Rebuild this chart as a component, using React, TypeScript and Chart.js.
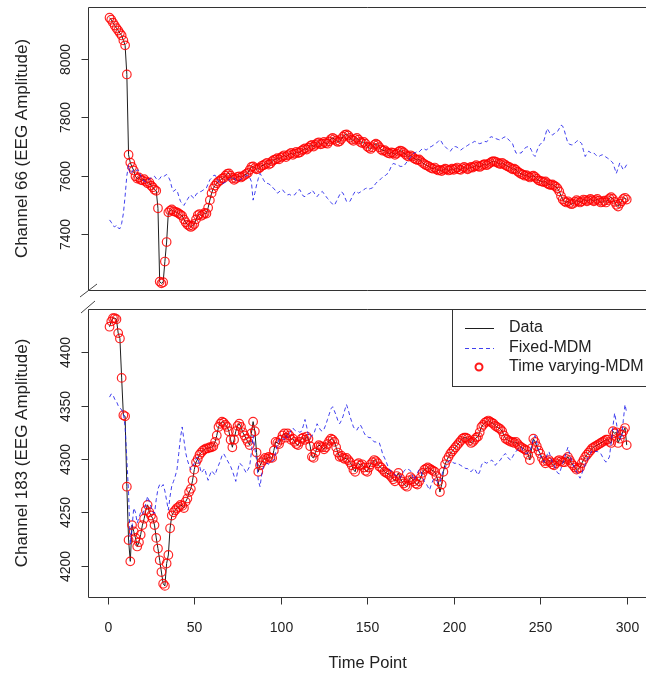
import React, { useEffect, useRef } from "react";
import { Chart, registerables } from "chart.js";

Chart.register(...registerables);

const timePoints = Array.from({ length: 300 }, (_, i) => i + 1);
const timeTicks = [0, 50, 100, 150, 200, 250, 300];
const ch66Ticks = [7400, 7600, 7800, 8000];
const ch183Ticks = [4200, 4250, 4300, 4350, 4400];
const seriesLabels = ["Data", "Fixed-MDM", "Time varying-MDM"];
const panelTitles = ["Channel 66 (EEG Amplitude)", "Channel 183 (EEG Amplitude)"];
const xTitle = "Time Point";

const ch66Data = [
  8143, 8136, 8126, 8116, 8107, 8099, 8090, 8082, 8065, 8048,
  7948, 7672, 7645, 7630, 7618, 7598, 7590, 7594, 7586, 7584,
  7588, 7580, 7574, 7577, 7566, 7560, 7552, 7548, 7488, 7236,
  7230, 7234, 7305, 7372, 7474, 7480, 7484, 7478, 7476, 7474,
  7470, 7466, 7462, 7450, 7440, 7432, 7428, 7424, 7428, 7434,
  7450, 7464, 7468, 7462, 7466, 7472, 7470, 7490, 7516, 7540,
  7556, 7566, 7574, 7580, 7584, 7590, 7592, 7600, 7606, 7608,
  7600, 7592, 7586, 7590, 7596, 7598, 7594, 7598, 7602, 7606,
  7610, 7620, 7630, 7632, 7626, 7622, 7624, 7628, 7634, 7636,
  7640, 7644, 7638, 7642, 7650, 7654, 7656, 7660, 7656, 7662,
  7666, 7670, 7664, 7670, 7674, 7678, 7672, 7676, 7682, 7678,
  7680, 7686, 7690, 7694, 7690, 7696, 7702, 7706, 7700, 7706,
  7712, 7714, 7708, 7710, 7716, 7712, 7710, 7718, 7726, 7730,
  7726, 7720, 7716, 7718, 7726, 7734, 7740, 7742, 7738, 7730,
  7724, 7720, 7726, 7730, 7724, 7716, 7712, 7716, 7710, 7700,
  7696, 7692, 7698, 7706, 7710, 7706, 7698, 7690, 7686, 7688,
  7682, 7678, 7676, 7680, 7678, 7672, 7676, 7682, 7686, 7684,
  7680, 7674, 7668, 7666, 7670, 7666, 7660, 7656, 7654, 7656,
  7650, 7644, 7640, 7636, 7634, 7630, 7626, 7624, 7628, 7622,
  7618, 7620, 7616, 7620, 7624, 7622, 7618, 7620, 7624, 7620,
  7624, 7628, 7622, 7620, 7626, 7630, 7626, 7622, 7626, 7630,
  7628, 7632, 7636, 7632, 7630, 7634, 7638, 7640, 7636, 7640,
  7644, 7648, 7650, 7648, 7646, 7642, 7640, 7644, 7640, 7636,
  7632, 7630, 7626, 7622, 7624, 7620, 7614, 7610, 7606, 7604,
  7600, 7602, 7598, 7594, 7598, 7600, 7596, 7590, 7584, 7582,
  7580, 7578, 7580, 7574, 7570, 7568, 7570, 7566, 7562, 7556,
  7546, 7530, 7518, 7512, 7508, 7512, 7506, 7502, 7504, 7510,
  7516, 7512, 7508, 7512, 7518, 7516, 7512, 7516, 7520, 7516,
  7512, 7516, 7520, 7514, 7508, 7510, 7514, 7508, 7516, 7522,
  7526, 7520, 7510, 7500, 7494, 7504, 7512, 7520, 7524, 7518,
];

const ch66Fixed = [
  7448, 7440, 7428, 7424, 7430, 7420, 7418, 7436, 7470, 7530,
  7600, 7636, 7606, 7612, 7622, 7616, 7620, 7618, 7600, 7586,
  7582, 7578, 7584, 7590, 7592, 7596, 7598, 7590, 7584, 7590,
  7598, 7596, 7600, 7604, 7596, 7584, 7560, 7546, 7552, 7550,
  7530, 7512, 7504, 7498, 7508, 7518, 7528, 7534, 7526, 7522,
  7536, 7540, 7544, 7546, 7550, 7554, 7558, 7572, 7586, 7592,
  7600, 7602, 7590, 7580, 7576, 7572, 7574, 7578, 7582, 7586,
  7592, 7596, 7592, 7584, 7580, 7584, 7588, 7592, 7596, 7600,
  7602, 7594, 7580, 7516, 7540, 7568, 7590, 7608, 7598, 7586,
  7576, 7574, 7572, 7568, 7560, 7556, 7548, 7540, 7544, 7550,
  7552, 7544, 7538, 7534, 7536, 7532, 7534, 7534, 7542, 7550,
  7552, 7540, 7530, 7528, 7534, 7538, 7540, 7550, 7544, 7534,
  7528, 7536, 7542, 7546, 7538, 7530, 7522, 7516, 7508, 7502,
  7498, 7510, 7522, 7534, 7544, 7540, 7526, 7512, 7510, 7512,
  7524, 7536, 7546, 7544, 7540, 7544, 7546, 7552, 7556, 7558,
  7554, 7556, 7558, 7566, 7574, 7580, 7584, 7590, 7596, 7598,
  7604, 7608, 7620, 7634, 7642, 7640, 7638, 7636, 7632, 7632,
  7632, 7640, 7648, 7654, 7664, 7672, 7678, 7680, 7684, 7682,
  7688, 7694, 7692, 7688, 7692, 7698, 7700, 7704, 7708, 7712,
  7718, 7724, 7716, 7704, 7700, 7694, 7688, 7684, 7692, 7700,
  7700, 7698, 7692, 7688, 7692, 7698, 7700, 7704, 7708, 7712,
  7714, 7718, 7716, 7712, 7710, 7712, 7716, 7718, 7716, 7724,
  7732, 7734, 7730, 7728, 7726, 7724, 7722, 7728, 7732, 7734,
  7728, 7722, 7716, 7710, 7692, 7678, 7676, 7678, 7678, 7686,
  7694, 7698, 7700, 7698, 7686, 7672, 7666, 7684, 7700, 7708,
  7714, 7718, 7740, 7762, 7752, 7742, 7740, 7744, 7750, 7752,
  7762, 7774, 7770, 7754, 7732, 7712, 7708, 7706, 7706, 7712,
  7718, 7722, 7716, 7710, 7686, 7666, 7676, 7684, 7680, 7676,
  7678, 7672, 7666, 7666, 7670, 7672, 7668, 7664, 7660, 7656,
  7650, 7644, 7626, 7608, 7626, 7644, 7632, 7620, 7628, 7638,
];

const ch66TimeVarying = ch66Data;

const ch183Data = [
  4424, 4429, 4432, 4432, 4431, 4418, 4413, 4376, 4341, 4340,
  4274, 4224, 4204, 4238, 4232, 4226, 4218, 4222, 4229, 4238,
  4244, 4252, 4257, 4250, 4247, 4244, 4238, 4226, 4216, 4205,
  4194, 4183, 4181, 4202, 4210, 4235, 4247, 4250, 4252, 4254,
  4255, 4257, 4256, 4254, 4260, 4263, 4269, 4272, 4280, 4290,
  4297, 4300, 4304, 4306, 4308, 4309, 4310, 4310, 4311, 4311,
  4312, 4316, 4322, 4330, 4333, 4335, 4334, 4332, 4330, 4326,
  4318, 4311, 4318, 4326, 4331, 4333, 4330, 4325, 4322, 4319,
  4316, 4313, 4324, 4335, 4326, 4306, 4288, 4294, 4297, 4299,
  4301, 4300, 4302, 4301, 4301, 4308, 4316, 4315, 4314, 4318,
  4322, 4324, 4320, 4324, 4322, 4318, 4319, 4316, 4314, 4313,
  4316, 4319, 4320, 4318, 4321, 4319, 4312, 4302, 4301, 4306,
  4311, 4313, 4312, 4311, 4309, 4311, 4314, 4317, 4319, 4318,
  4316, 4311, 4306, 4302, 4303, 4301, 4300, 4301, 4299, 4297,
  4294, 4290, 4288, 4295, 4296, 4294, 4295, 4292, 4289, 4288,
  4292, 4295, 4297, 4299, 4298, 4296, 4293, 4292, 4290, 4288,
  4287, 4286, 4285, 4283, 4281, 4279, 4284, 4287, 4282, 4279,
  4277, 4275, 4274, 4280, 4283, 4281, 4279, 4277, 4276, 4279,
  4283, 4287, 4290, 4291, 4292, 4291, 4290, 4289, 4288, 4284,
  4279, 4269, 4276, 4288, 4295, 4299, 4302, 4305, 4307, 4309,
  4311, 4313, 4315, 4317, 4319, 4320, 4320, 4319, 4317, 4315,
  4316, 4318, 4320, 4321, 4325, 4330, 4332, 4334, 4335, 4336,
  4335, 4334, 4333, 4331, 4330, 4329, 4328, 4326, 4322, 4319,
  4318, 4317, 4316, 4316, 4315, 4316, 4314, 4312, 4311, 4310,
  4309, 4308, 4304, 4299, 4310, 4319, 4316, 4312, 4308, 4305,
  4301, 4298, 4296, 4298, 4299, 4297, 4295, 4294, 4296, 4298,
  4299, 4298, 4297, 4297, 4300, 4302, 4299, 4296, 4294, 4292,
  4290, 4291, 4292, 4296, 4299, 4302, 4304, 4306, 4308, 4310,
  4311, 4312, 4313, 4314, 4315, 4316, 4317, 4318, 4318, 4316,
  4315, 4326, 4324, 4325, 4315, 4319, 4323, 4326, 4329, 4313,
];

const ch183Fixed = [
  4358, 4361, 4360, 4356, 4354, 4350, 4348, 4346, 4343, 4330,
  4300, 4268, 4220, 4236, 4254, 4250, 4240, 4245, 4250, 4248,
  4252, 4258, 4265, 4260, 4255, 4250, 4249, 4262, 4272, 4276,
  4274, 4276, 4270, 4261, 4252, 4265, 4275, 4279, 4284, 4290,
  4305, 4320, 4330, 4318, 4306, 4299, 4294, 4290, 4293, 4296,
  4300, 4302, 4294, 4287, 4289, 4291, 4285, 4280, 4285, 4289,
  4287, 4285, 4290, 4294, 4298, 4303, 4305, 4302, 4299, 4296,
  4293, 4289, 4284, 4279, 4288, 4296, 4295, 4293, 4290, 4287,
  4290, 4293, 4306, 4322, 4310, 4299, 4280, 4274, 4286, 4293,
  4294, 4296, 4295, 4297, 4298, 4299, 4306, 4314, 4318, 4319,
  4320, 4318, 4322, 4320, 4324, 4327, 4329, 4327, 4326, 4326,
  4325, 4326, 4331, 4337, 4330, 4322, 4320, 4322, 4323, 4328,
  4333, 4330, 4327, 4326, 4328, 4332, 4337, 4342, 4347, 4349,
  4345, 4341, 4336, 4333, 4336, 4340, 4346, 4351, 4346, 4340,
  4335, 4330, 4328, 4327, 4330, 4332, 4329, 4325, 4322, 4321,
  4320, 4320, 4318, 4316, 4316, 4315, 4315, 4310, 4304, 4301,
  4297, 4293, 4290, 4288, 4287, 4285, 4284, 4283, 4282, 4285,
  4288, 4290, 4291, 4290, 4289, 4285, 4280, 4283, 4287, 4290,
  4289, 4283, 4279, 4277, 4274, 4271, 4276, 4280, 4282, 4280,
  4277, 4278, 4284, 4290, 4292, 4295, 4298, 4299, 4298, 4296,
  4296, 4296, 4295, 4294, 4293, 4292, 4291, 4291, 4289, 4288,
  4290, 4291, 4288, 4285, 4288, 4294, 4297, 4297, 4296, 4297,
  4298, 4299, 4297, 4294, 4296, 4298, 4299, 4302, 4304, 4305,
  4302, 4300, 4299, 4302, 4305, 4307, 4309, 4310, 4311, 4308,
  4306, 4305, 4306, 4307, 4312, 4318, 4322, 4315, 4308, 4303,
  4300, 4297, 4300, 4304, 4307, 4302, 4297, 4294, 4290, 4287,
  4286, 4291, 4296, 4300, 4306, 4311, 4305, 4299, 4295, 4291,
  4288, 4285, 4282, 4286, 4291, 4295, 4299, 4302, 4305, 4308,
  4308, 4307, 4307, 4306, 4305, 4302, 4299, 4297, 4299, 4302,
  4315, 4330, 4343, 4334, 4324, 4320, 4318, 4336, 4351, 4343,
];

const ch183TimeVarying = ch183Data;

const FONT = '"Liberation Sans", Arial, Helvetica, sans-serif';
const X_MIN = -11.45;
const X_MAX = 307.96;
const X_FRAME_END = 312;

const panelDecor = {
  id: "panelDecor",
  afterDraw(chart: any, _args: any, opts: any) {
    const { ctx, chartArea: a, scales } = chart;
    const xs = scales.x;
    const ys = scales.y;
    const left = Math.round(a.left) + 0.5;
    const top = Math.round(a.top) + 0.5;
    const bottom = Math.round(a.bottom) + 0.5;
    const rightEdge = xs.getPixelForValue(X_FRAME_END);
    ctx.save();
    ctx.strokeStyle = "#333";
    ctx.lineWidth = 1;
    ctx.setLineDash([]);
    ctx.beginPath();
    ctx.moveTo(rightEdge, top);
    ctx.lineTo(left, top);
    ctx.lineTo(left, bottom);
    ctx.lineTo(rightEdge, bottom);
    ctx.stroke();

    // y ticks + labels
    ctx.fillStyle = "#222";
    ctx.textAlign = "center";
    ctx.textBaseline = "middle";
    ctx.font = `14px ${FONT}`;
    for (const v of opts.yTicks) {
      const py = Math.round(ys.getPixelForValue(v)) + 0.5;
      ctx.beginPath();
      ctx.moveTo(left - 7, py);
      ctx.lineTo(left, py);
      ctx.stroke();
      ctx.save();
      ctx.translate(66, py);
      ctx.rotate(-Math.PI / 2);
      ctx.fillText(String(v), 0, 0);
      ctx.restore();
    }
    // y title
    ctx.save();
    ctx.font = `17px ${FONT}`;
    ctx.translate(22, (a.top + a.bottom) / 2);
    ctx.rotate(-Math.PI / 2);
    ctx.fillText(opts.title, 0, 0);
    ctx.restore();

    // x axis
    if (opts.xTicks) {
      ctx.font = `14px ${FONT}`;
      for (const v of opts.xTicks) {
        const px = Math.round(xs.getPixelForValue(v)) + 0.5;
        ctx.beginPath();
        ctx.moveTo(px, bottom);
        ctx.lineTo(px, bottom + 7);
        ctx.stroke();
        ctx.fillText(String(v), px, a.bottom + 31);
      }
      ctx.font = `16.5px ${FONT}`;
      ctx.fillText(opts.xTitle, (a.left + rightEdge) / 2, a.bottom + 66);
    }

    // axis break mark
    ctx.strokeStyle = "#444";
    ctx.beginPath();
    if (opts.breakMark === "bottom") {
      ctx.moveTo(a.left - 8, a.bottom + 7);
      ctx.lineTo(a.left + 9, a.bottom - 6);
    } else if (opts.breakMark === "top") {
      ctx.moveTo(a.left - 7, a.top + 4);
      ctx.lineTo(a.left + 7, a.top - 8);
    }
    ctx.stroke();

    // legend
    if (opts.legend) {
      const bx = 452.5;
      const by = top;
      ctx.fillStyle = "#fff";
      ctx.fillRect(bx, by, rightEdge - bx, 77);
      ctx.strokeStyle = "#333";
      ctx.lineWidth = 1;
      ctx.strokeRect(bx, by, rightEdge - bx, 77);
      const rows = [19, 39, 58];
      chart.data.datasets.forEach((ds: any, i: number) => {
        const ry = a.top + rows[i];
        ctx.save();
        if (ds.showLine === false) {
          ctx.strokeStyle = "rgba(255,0,0,0.9)";
          ctx.lineWidth = 2;
          ctx.beginPath();
          ctx.arc(479, ry, 3.5, 0, Math.PI * 2);
          ctx.stroke();
        } else {
          ctx.strokeStyle = ds.borderColor;
          ctx.lineWidth = 1;
          ctx.setLineDash(ds.borderDash || []);
          ctx.beginPath();
          ctx.moveTo(465, Math.round(ry) + 0.5);
          ctx.lineTo(494, Math.round(ry) + 0.5);
          ctx.stroke();
        }
        ctx.restore();
        ctx.fillStyle = "#222";
        ctx.font = `16px ${FONT}`;
        ctx.textAlign = "left";
        ctx.textBaseline = "middle";
        ctx.fillText(ds.label, 509, ry);
      });
    }
    ctx.restore();
  },
};

function toXY(arr: number[]) {
  return arr.map((v, i) => ({ x: timePoints[i], y: v }));
}

function makeConfig(p: any): any {
  return {
    type: "line",
    data: {
      datasets: [
        {
          label: seriesLabels[0],
          data: toXY(p.data),
          borderColor: "#1e1e1e",
          borderWidth: 1,
          pointRadius: 0,
          fill: false,
          tension: 0,
          order: 3,
        },
        {
          label: seriesLabels[1],
          data: toXY(p.fixed),
          borderColor: "rgba(30,30,235,0.85)",
          borderWidth: 1,
          borderDash: [4, 3],
          pointRadius: 0,
          fill: false,
          tension: 0,
          order: 1,
        },
        {
          label: seriesLabels[2],
          data: toXY(p.tvm),
          showLine: false,
          pointRadius: 4.3,
          pointHoverRadius: 4.3,
          pointBorderColor: "rgba(255,0,0,0.85)",
          pointBackgroundColor: "rgba(0,0,0,0)",
          pointBorderWidth: 1.2,
          order: 2,
        },
      ],
    },
    options: {
      animation: false,
      responsive: false,
      devicePixelRatio: 1,
      events: [],
      layout: { padding: p.padding },
      scales: {
        x: { type: "linear", display: false, min: X_MIN, max: X_MAX },
        y: { type: "linear", display: false, min: p.yMin, max: p.yMax },
      },
      plugins: {
        legend: { display: false },
        tooltip: { enabled: false },
        panelDecor: p.decor,
      },
    },
    plugins: [panelDecor],
  };
}

export default function App() {
  const topRef = useRef<HTMLCanvasElement>(null);
  const botRef = useRef<HTMLCanvasElement>(null);

  useEffect(() => {
    const c1 = new Chart(
      topRef.current as HTMLCanvasElement,
      makeConfig({
        data: ch66Data,
        fixed: ch66Fixed,
        tvm: ch66TimeVarying,
        yMin: 7207.2,
        yMax: 8179.7,
        padding: { left: 88, right: 0, top: 7, bottom: 10 },
        decor: { yTicks: ch66Ticks, title: panelTitles[0], breakMark: "bottom" },
      })
    );
    const c2 = new Chart(
      botRef.current as HTMLCanvasElement,
      makeConfig({
        data: ch183Data,
        fixed: ch183Fixed,
        tvm: ch183TimeVarying,
        yMin: 4170.6,
        yMax: 4440.6,
        padding: { left: 88, right: 0, top: 9, bottom: 78 },
        decor: {
          yTicks: ch183Ticks,
          title: panelTitles[1],
          breakMark: "top",
          xTicks: timeTicks,
          xTitle: xTitle,
          legend: true,
        },
      })
    );
    return () => {
      c1.destroy();
      c2.destroy();
    };
  }, []);

  return (
    <div style={{ position: "fixed", left: 0, top: 0, width: 646, height: 675, background: "#fff" }}>
      <canvas ref={topRef} width={646} height={300} style={{ position: "absolute", left: 0, top: 0 }} />
      <canvas ref={botRef} width={646} height={375} style={{ position: "absolute", left: 0, top: 300 }} />
    </div>
  );
}
